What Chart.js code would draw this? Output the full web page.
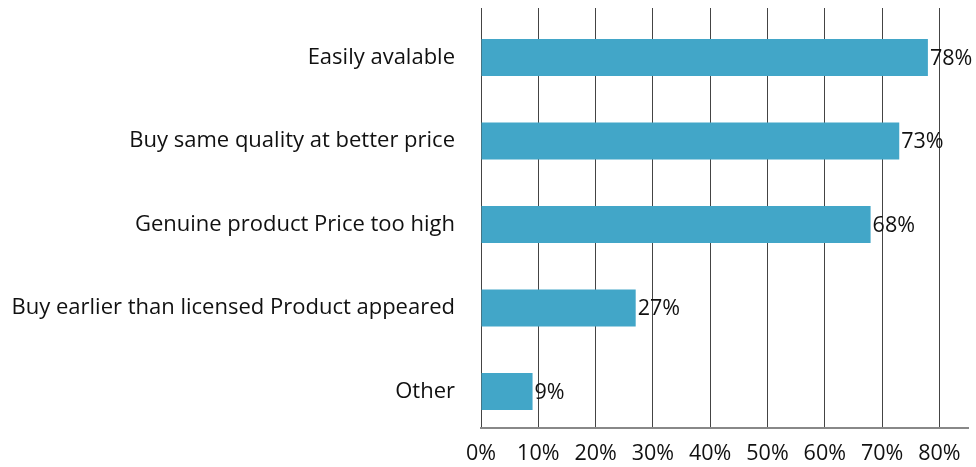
<!DOCTYPE html>
<html lang="en">
<head>
    <meta charset="UTF-8">
    <title>Reasons for buying</title>
    <style>
        body {
            margin: 0;
            padding: 0;
            background: #ffffff;
        }
        .chart {
            width: 976px;
            height: 467px;
        }
    </style>
</head>
<body>
    <div class="chart">
        <canvas id="reasonChart" width="976" height="467"></canvas>
    </div>

    <script src="https://cdn.jsdelivr.net/npm/chart.js"></script>
    <script>
        const reasons = [
            'Easily avalable',
            'Buy same quality at better price',
            'Genuine product Price too high',
            'Buy earlier than licensed Product appeared',
            'Other'
        ];
        const shares = [78, 73, 68, 27, 9];
        const tickValues = [0, 10, 20, 30, 40, 50, 60, 70, 80];

        const fontFamily = '"Open Sans", "Noto Sans", sans-serif';

        // y is a numeric row index so the rows can sit a little low in the plot
        const rows = shares.map((v, i) => ({ x: v, y: i }));

        // percentage written just past the end of each bar
        const valueLabels = {
            id: 'valueLabels',
            afterDatasetsDraw(chart) {
                const ctx = chart.ctx;
                const meta = chart.getDatasetMeta(0);
                ctx.save();
                ctx.font = '21.5px ' + fontFamily;
                ctx.fillStyle = '#111';
                ctx.textAlign = 'left';
                ctx.textBaseline = 'middle';
                meta.data.forEach((bar, i) => {
                    ctx.fillText(shares[i] + '%', bar.x + 2, bar.y + 1);
                });
                ctx.restore();
            }
        };

        new Chart(document.getElementById('reasonChart'), {
            type: 'bar',
            data: {
                datasets: [{
                    data: rows,
                    backgroundColor: '#42a6c8',
                    borderWidth: 0,
                    barPercentage: 0.443,
                    categoryPercentage: 1
                }]
            },
            options: {
                indexAxis: 'y',
                responsive: false,
                animation: false,
                layout: {
                    padding: { top: 8, right: 8, left: 0, bottom: 0 }
                },
                plugins: {
                    legend: { display: false },
                    tooltip: { enabled: false }
                },
                scales: {
                    x: {
                        min: 0,
                        max: 85,
                        afterBuildTicks: scale => {
                            scale.ticks = tickValues.map(v => ({ value: v }));
                        },
                        afterFit: scale => { scale.height = 39; },
                        ticks: {
                            callback: v => v + '%',
                            color: '#111',
                            padding: 13,
                            maxRotation: 0,
                            font: { family: fontFamily, size: 21.5 }
                        },
                        grid: {
                            color: '#444',
                            lineWidth: 1,
                            drawTicks: false
                        },
                        border: { color: '#888', width: 2 }
                    },
                    y: {
                        type: 'linear',
                        reverse: true,
                        offset: false,
                        min: -0.593,
                        max: 4.437,
                        afterBuildTicks: scale => {
                            scale.ticks = reasons.map((r, i) => ({ value: i }));
                        },
                        afterFit: scale => {
                            scale.width = 481;
                            scale.paddingTop = 0;
                            scale.paddingBottom = 0;
                        },
                        ticks: {
                            callback: v => reasons[v],
                            color: '#111',
                            padding: 18,
                            font: { family: fontFamily, size: 22 }
                        },
                        grid: { display: false },
                        border: { display: false }
                    }
                }
            },
            plugins: [valueLabels]
        });
    </script>
</body>
</html>
